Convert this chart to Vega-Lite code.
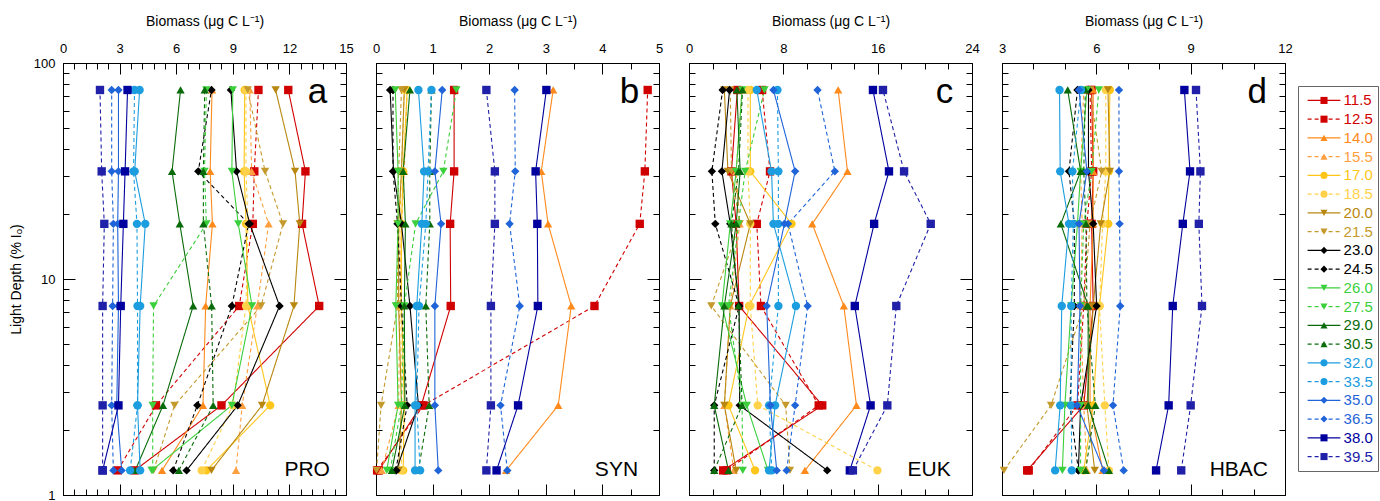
{
"$schema":"https://vega.github.io/schema/vega-lite/v6.json",
"background":"white",
"padding":{"left":8,"top":13,"right":0,"bottom":0},
"spacing":4,
"datasets":{
"pa":[
{"s":"11.5","d":75,"v":11.94},{"s":"11.5","d":31.5,"v":12.85},{"s":"11.5","d":18,"v":12.67},{"s":"11.5","d":7.5,"v":13.58},{"s":"11.5","d":2.6,"v":8.4},{"s":"11.5","d":1.3,"v":3.8},
{"s":"12.5","d":75,"v":10.36},{"s":"12.5","d":31.5,"v":10.14},{"s":"12.5","d":18,"v":10.06},{"s":"12.5","d":7.5,"v":9.34},{"s":"12.5","d":2.6,"v":4.93},{"s":"12.5","d":1.3,"v":2.9},
{"s":"14.0","d":75,"v":7.9},{"s":"14.0","d":31.5,"v":7.8},{"s":"14.0","d":18,"v":7.92},{"s":"14.0","d":7.5,"v":7.56},{"s":"14.0","d":2.6,"v":7.42},{"s":"14.0","d":1.3,"v":5.25},
{"s":"15.5","d":75,"v":9.9},{"s":"15.5","d":31.5,"v":10.0},{"s":"15.5","d":18,"v":10.9},{"s":"15.5","d":7.5,"v":10.3},{"s":"15.5","d":2.6,"v":9.5},{"s":"15.5","d":1.3,"v":9.17},
{"s":"17.0","d":75,"v":9.63},{"s":"17.0","d":31.5,"v":9.6},{"s":"17.0","d":18,"v":9.7},{"s":"17.0","d":7.5,"v":9.8},{"s":"17.0","d":2.6,"v":10.98},{"s":"17.0","d":1.3,"v":7.6},
{"s":"18.5","d":75,"v":9.7},{"s":"18.5","d":31.5,"v":9.7},{"s":"18.5","d":18,"v":9.8},{"s":"18.5","d":7.5,"v":9.7},{"s":"18.5","d":2.6,"v":9.0},{"s":"18.5","d":1.3,"v":7.35},
{"s":"20.0","d":75,"v":11.27},{"s":"20.0","d":31.5,"v":12.3},{"s":"20.0","d":18,"v":12.55},{"s":"20.0","d":7.5,"v":12.24},{"s":"20.0","d":2.6,"v":10.55},{"s":"20.0","d":1.3,"v":7.87},
{"s":"21.5","d":75,"v":9.79},{"s":"21.5","d":31.5,"v":10.71},{"s":"21.5","d":18,"v":11.66},{"s":"21.5","d":7.5,"v":10.5},{"s":"21.5","d":2.6,"v":5.91},{"s":"21.5","d":1.3,"v":4.8},
{"s":"23.0","d":75,"v":8.9},{"s":"23.0","d":31.5,"v":9.2},{"s":"23.0","d":18,"v":9.9},{"s":"23.0","d":7.5,"v":11.48},{"s":"23.0","d":2.6,"v":9.26},{"s":"23.0","d":1.3,"v":6.55},
{"s":"24.5","d":75,"v":7.87},{"s":"24.5","d":31.5,"v":7.17},{"s":"24.5","d":18,"v":9.84},{"s":"24.5","d":7.5,"v":8.95},{"s":"24.5","d":2.6,"v":7.12},{"s":"24.5","d":1.3,"v":5.84},
{"s":"26.0","d":75,"v":9.0},{"s":"26.0","d":31.5,"v":8.95},{"s":"26.0","d":18,"v":9.29},{"s":"26.0","d":7.5,"v":10.02},{"s":"26.0","d":2.6,"v":8.95},{"s":"26.0","d":1.3,"v":4.7},
{"s":"27.5","d":75,"v":7.6},{"s":"27.5","d":31.5,"v":7.5},{"s":"27.5","d":18,"v":7.6},{"s":"27.5","d":7.5,"v":4.8},{"s":"27.5","d":2.6,"v":4.75},{"s":"27.5","d":1.3,"v":4.76},
{"s":"29.0","d":75,"v":6.23},{"s":"29.0","d":31.5,"v":5.78},{"s":"29.0","d":18,"v":6.19},{"s":"29.0","d":7.5,"v":6.9},{"s":"29.0","d":2.6,"v":5.3},{"s":"29.0","d":1.3,"v":3.83},
{"s":"30.5","d":75,"v":7.51},{"s":"30.5","d":31.5,"v":7.44},{"s":"30.5","d":18,"v":7.44},{"s":"30.5","d":7.5,"v":7.88},{"s":"30.5","d":2.6,"v":7.96},{"s":"30.5","d":1.3,"v":6.14},
{"s":"32.0","d":75,"v":4.06},{"s":"32.0","d":31.5,"v":3.8},{"s":"32.0","d":18,"v":4.36},{"s":"32.0","d":7.5,"v":4.09},{"s":"32.0","d":2.6,"v":3.95},{"s":"32.0","d":1.3,"v":4.09},
{"s":"33.5","d":75,"v":3.79},{"s":"33.5","d":31.5,"v":3.74},{"s":"33.5","d":18,"v":3.92},{"s":"33.5","d":7.5,"v":3.95},{"s":"33.5","d":2.6,"v":3.95},{"s":"33.5","d":1.3,"v":3.56},
{"s":"35.0","d":75,"v":2.94},{"s":"35.0","d":31.5,"v":2.94},{"s":"35.0","d":18,"v":2.9},{"s":"35.0","d":7.5,"v":2.94},{"s":"35.0","d":2.6,"v":2.85},{"s":"35.0","d":1.3,"v":3.11},
{"s":"36.5","d":75,"v":2.58},{"s":"36.5","d":31.5,"v":2.58},{"s":"36.5","d":18,"v":2.67},{"s":"36.5","d":7.5,"v":2.63},{"s":"36.5","d":2.6,"v":2.58},{"s":"36.5","d":1.3,"v":2.67},
{"s":"38.0","d":75,"v":3.42},{"s":"38.0","d":31.5,"v":3.29},{"s":"38.0","d":18,"v":3.2},{"s":"38.0","d":7.5,"v":3.06},{"s":"38.0","d":2.6,"v":2.94},{"s":"38.0","d":1.3,"v":2.1},
{"s":"39.5","d":75,"v":1.96},{"s":"39.5","d":31.5,"v":2.05},{"s":"39.5","d":18,"v":2.19},{"s":"39.5","d":7.5,"v":2.1},{"s":"39.5","d":2.6,"v":2.1},{"s":"39.5","d":1.3,"v":2.1}
],
"pb":[
{"s":"11.5","d":75,"v":1.38},{"s":"11.5","d":31.5,"v":1.38},{"s":"11.5","d":18,"v":1.31},{"s":"11.5","d":7.5,"v":1.32},{"s":"11.5","d":2.6,"v":0.8},{"s":"11.5","d":1.3,"v":0.05},
{"s":"12.5","d":75,"v":4.8},{"s":"12.5","d":31.5,"v":4.75},{"s":"12.5","d":18,"v":4.66},{"s":"12.5","d":7.5,"v":3.86},{"s":"12.5","d":2.6,"v":0.84},{"s":"12.5","d":1.3,"v":0.02},
{"s":"14.0","d":75,"v":3.13},{"s":"14.0","d":31.5,"v":2.92},{"s":"14.0","d":18,"v":3.04},{"s":"14.0","d":7.5,"v":3.45},{"s":"14.0","d":2.6,"v":3.22},{"s":"14.0","d":1.3,"v":2.3},
{"s":"15.5","d":75,"v":0.55},{"s":"15.5","d":31.5,"v":0.5},{"s":"15.5","d":18,"v":0.45},{"s":"15.5","d":7.5,"v":0.42},{"s":"15.5","d":2.6,"v":0.4},{"s":"15.5","d":1.3,"v":0.1},
{"s":"17.0","d":75,"v":0.55},{"s":"17.0","d":31.5,"v":0.48},{"s":"17.0","d":18,"v":0.45},{"s":"17.0","d":7.5,"v":0.45},{"s":"17.0","d":2.6,"v":0.5},{"s":"17.0","d":1.3,"v":0.48},
{"s":"18.5","d":75,"v":0.5},{"s":"18.5","d":31.5,"v":0.45},{"s":"18.5","d":18,"v":0.42},{"s":"18.5","d":7.5,"v":0.44},{"s":"18.5","d":2.6,"v":0.45},{"s":"18.5","d":1.3,"v":0.45},
{"s":"20.0","d":75,"v":0.5},{"s":"20.0","d":31.5,"v":0.45},{"s":"20.0","d":18,"v":0.4},{"s":"20.0","d":7.5,"v":0.4},{"s":"20.0","d":2.6,"v":0.45},{"s":"20.0","d":1.3,"v":0.4},
{"s":"21.5","d":75,"v":0.45},{"s":"21.5","d":31.5,"v":0.4},{"s":"21.5","d":18,"v":0.38},{"s":"21.5","d":7.5,"v":0.38},{"s":"21.5","d":2.6,"v":0.09},{"s":"21.5","d":1.3,"v":0.01},
{"s":"23.0","d":75,"v":0.25},{"s":"23.0","d":31.5,"v":0.31},{"s":"23.0","d":18,"v":0.45},{"s":"23.0","d":7.5,"v":0.6},{"s":"23.0","d":2.6,"v":0.75},{"s":"23.0","d":1.3,"v":0.36},
{"s":"24.5","d":75,"v":0.3},{"s":"24.5","d":31.5,"v":0.3},{"s":"24.5","d":18,"v":0.38},{"s":"24.5","d":7.5,"v":0.45},{"s":"24.5","d":2.6,"v":0.55},{"s":"24.5","d":1.3,"v":0.35},
{"s":"26.0","d":75,"v":0.34},{"s":"26.0","d":31.5,"v":0.39},{"s":"26.0","d":18,"v":0.39},{"s":"26.0","d":7.5,"v":0.35},{"s":"26.0","d":2.6,"v":0.39},{"s":"26.0","d":1.3,"v":0.19},
{"s":"27.5","d":75,"v":1.42},{"s":"27.5","d":31.5,"v":1.19},{"s":"27.5","d":18,"v":0.7},{"s":"27.5","d":7.5,"v":0.5},{"s":"27.5","d":2.6,"v":0.45},{"s":"27.5","d":1.3,"v":0.25},
{"s":"29.0","d":75,"v":0.6},{"s":"29.0","d":31.5,"v":0.48},{"s":"29.0","d":18,"v":0.52},{"s":"29.0","d":7.5,"v":0.5},{"s":"29.0","d":2.6,"v":0.51},{"s":"29.0","d":1.3,"v":0.28},
{"s":"30.5","d":75,"v":0.98},{"s":"30.5","d":31.5,"v":0.95},{"s":"30.5","d":18,"v":0.95},{"s":"30.5","d":7.5,"v":0.88},{"s":"30.5","d":2.6,"v":0.94},{"s":"30.5","d":1.3,"v":0.75},
{"s":"32.0","d":75,"v":0.75},{"s":"32.0","d":31.5,"v":0.85},{"s":"32.0","d":18,"v":0.81},{"s":"32.0","d":7.5,"v":0.72},{"s":"32.0","d":2.6,"v":0.69},{"s":"32.0","d":1.3,"v":0.69},
{"s":"33.5","d":75,"v":0.98},{"s":"33.5","d":31.5,"v":0.92},{"s":"33.5","d":18,"v":0.88},{"s":"33.5","d":7.5,"v":0.76},{"s":"33.5","d":2.6,"v":0.72},{"s":"33.5","d":1.3,"v":0.78},
{"s":"35.0","d":75,"v":1.17},{"s":"35.0","d":31.5,"v":1.04},{"s":"35.0","d":18,"v":1.15},{"s":"35.0","d":7.5,"v":1.04},{"s":"35.0","d":2.6,"v":1.04},{"s":"35.0","d":1.3,"v":1.1},
{"s":"36.5","d":75,"v":2.45},{"s":"36.5","d":31.5,"v":2.46},{"s":"36.5","d":18,"v":2.36},{"s":"36.5","d":7.5,"v":2.54},{"s":"36.5","d":2.6,"v":2.2},{"s":"36.5","d":1.3,"v":2.32},
{"s":"38.0","d":75,"v":3.01},{"s":"38.0","d":31.5,"v":2.82},{"s":"38.0","d":18,"v":2.85},{"s":"38.0","d":7.5,"v":2.86},{"s":"38.0","d":2.6,"v":2.51},{"s":"38.0","d":1.3,"v":2.13},
{"s":"39.5","d":75,"v":1.95},{"s":"39.5","d":31.5,"v":2.1},{"s":"39.5","d":18,"v":2.1},{"s":"39.5","d":7.5,"v":2.03},{"s":"39.5","d":2.6,"v":2.03},{"s":"39.5","d":1.3,"v":1.95}
],
"pc":[
{"s":"11.5","d":75,"v":4.1},{"s":"11.5","d":31.5,"v":3.6},{"s":"11.5","d":18,"v":4.0},{"s":"11.5","d":7.5,"v":4.25},{"s":"11.5","d":2.6,"v":11.3},{"s":"11.5","d":1.3,"v":2.9},
{"s":"12.5","d":75,"v":6.2},{"s":"12.5","d":31.5,"v":6.87},{"s":"12.5","d":18,"v":5.75},{"s":"12.5","d":7.5,"v":6.1},{"s":"12.5","d":2.6,"v":11.0},{"s":"12.5","d":1.3,"v":3.2},
{"s":"14.0","d":75,"v":12.65},{"s":"14.0","d":31.5,"v":13.44},{"s":"14.0","d":18,"v":10.45},{"s":"14.0","d":7.5,"v":13.13},{"s":"14.0","d":2.6,"v":14.2},{"s":"14.0","d":1.3,"v":9.83},
{"s":"15.5","d":75,"v":4.5},{"s":"15.5","d":31.5,"v":4.0},{"s":"15.5","d":18,"v":4.3},{"s":"15.5","d":7.5,"v":3.5},{"s":"15.5","d":2.6,"v":3.0},{"s":"15.5","d":1.3,"v":3.8},
{"s":"17.0","d":75,"v":5.2},{"s":"17.0","d":31.5,"v":5.2},{"s":"17.0","d":18,"v":8.7},{"s":"17.0","d":7.5,"v":5.1},{"s":"17.0","d":2.6,"v":3.35},{"s":"17.0","d":1.3,"v":5.6},
{"s":"18.5","d":75,"v":5.0},{"s":"18.5","d":31.5,"v":5.0},{"s":"18.5","d":18,"v":5.2},{"s":"18.5","d":7.5,"v":5.2},{"s":"18.5","d":2.6,"v":5.83},{"s":"18.5","d":1.3,"v":15.98},
{"s":"20.0","d":75,"v":3.0},{"s":"20.0","d":31.5,"v":3.3},{"s":"20.0","d":18,"v":5.2},{"s":"20.0","d":7.5,"v":3.5},{"s":"20.0","d":2.6,"v":3.0},{"s":"20.0","d":1.3,"v":4.0},
{"s":"21.5","d":75,"v":3.5},{"s":"21.5","d":31.5,"v":3.6},{"s":"21.5","d":18,"v":4.3},{"s":"21.5","d":7.5,"v":1.89},{"s":"21.5","d":2.6,"v":8.2},{"s":"21.5","d":1.3,"v":8.56},
{"s":"23.0","d":75,"v":3.44},{"s":"23.0","d":31.5,"v":2.79},{"s":"23.0","d":18,"v":3.5},{"s":"23.0","d":7.5,"v":4.25},{"s":"23.0","d":2.6,"v":4.3},{"s":"23.0","d":1.3,"v":11.72},
{"s":"24.5","d":75,"v":2.85},{"s":"24.5","d":31.5,"v":1.94},{"s":"24.5","d":18,"v":2.23},{"s":"24.5","d":7.5,"v":4.25},{"s":"24.5","d":2.6,"v":2.14},{"s":"24.5","d":1.3,"v":2.14},
{"s":"26.0","d":75,"v":4.5},{"s":"26.0","d":31.5,"v":4.0},{"s":"26.0","d":18,"v":3.5},{"s":"26.0","d":7.5,"v":2.8},{"s":"26.0","d":2.6,"v":4.9},{"s":"26.0","d":1.3,"v":6.7},
{"s":"27.5","d":75,"v":6.4},{"s":"27.5","d":31.5,"v":4.76},{"s":"27.5","d":18,"v":4.2},{"s":"27.5","d":7.5,"v":3.35},{"s":"27.5","d":2.6,"v":4.5},{"s":"27.5","d":1.3,"v":4.56},
{"s":"29.0","d":75,"v":4.06},{"s":"29.0","d":31.5,"v":4.34},{"s":"29.0","d":18,"v":4.0},{"s":"29.0","d":7.5,"v":3.0},{"s":"29.0","d":2.6,"v":2.14},{"s":"29.0","d":1.3,"v":3.35},
{"s":"30.5","d":75,"v":4.54},{"s":"30.5","d":31.5,"v":4.2},{"s":"30.5","d":18,"v":3.6},{"s":"30.5","d":7.5,"v":4.2},{"s":"30.5","d":2.6,"v":4.5},{"s":"30.5","d":1.3,"v":2.14},
{"s":"32.0","d":75,"v":5.75},{"s":"32.0","d":31.5,"v":7.0},{"s":"32.0","d":18,"v":7.16},{"s":"32.0","d":7.5,"v":9.07},{"s":"32.0","d":2.6,"v":7.3},{"s":"32.0","d":1.3,"v":6.79},
{"s":"33.5","d":75,"v":7.5},{"s":"33.5","d":31.5,"v":7.58},{"s":"33.5","d":18,"v":7.58},{"s":"33.5","d":7.5,"v":7.58},{"s":"33.5","d":2.6,"v":6.79},{"s":"33.5","d":1.3,"v":7.02},
{"s":"35.0","d":75,"v":7.16},{"s":"35.0","d":31.5,"v":9.0},{"s":"35.0","d":18,"v":8.09},{"s":"35.0","d":7.5,"v":6.59},{"s":"35.0","d":2.6,"v":6.9},{"s":"35.0","d":1.3,"v":7.44},
{"s":"36.5","d":75,"v":10.9},{"s":"36.5","d":31.5,"v":12.37},{"s":"36.5","d":18,"v":8.4},{"s":"36.5","d":7.5,"v":10.06},{"s":"36.5","d":2.6,"v":9.0},{"s":"36.5","d":1.3,"v":8.28},
{"s":"38.0","d":75,"v":15.6},{"s":"38.0","d":31.5,"v":16.96},{"s":"38.0","d":18,"v":15.7},{"s":"38.0","d":7.5,"v":14.06},{"s":"38.0","d":2.6,"v":15.4},{"s":"38.0","d":1.3,"v":13.64},
{"s":"39.5","d":75,"v":16.45},{"s":"39.5","d":31.5,"v":18.24},{"s":"39.5","d":18,"v":20.5},{"s":"39.5","d":7.5,"v":17.58},{"s":"39.5","d":2.6,"v":16.82},{"s":"39.5","d":1.3,"v":13.9}
],
"pd":[
{"s":"11.5","d":75,"v":5.85},{"s":"11.5","d":31.5,"v":5.9},{"s":"11.5","d":18,"v":5.85},{"s":"11.5","d":7.5,"v":5.9},{"s":"11.5","d":2.6,"v":5.6},{"s":"11.5","d":1.3,"v":3.8},
{"s":"12.5","d":75,"v":5.8},{"s":"12.5","d":31.5,"v":5.85},{"s":"12.5","d":18,"v":5.7},{"s":"12.5","d":7.5,"v":5.6},{"s":"12.5","d":2.6,"v":5.4},{"s":"12.5","d":1.3,"v":3.85},
{"s":"14.0","d":75,"v":5.9},{"s":"14.0","d":31.5,"v":5.9},{"s":"14.0","d":18,"v":5.9},{"s":"14.0","d":7.5,"v":5.8},{"s":"14.0","d":2.6,"v":5.8},{"s":"14.0","d":1.3,"v":6.2},
{"s":"15.5","d":75,"v":5.6},{"s":"15.5","d":31.5,"v":5.5},{"s":"15.5","d":18,"v":5.55},{"s":"15.5","d":7.5,"v":5.5},{"s":"15.5","d":2.6,"v":5.6},{"s":"15.5","d":1.3,"v":5.7},
{"s":"17.0","d":75,"v":6.43},{"s":"17.0","d":31.5,"v":6.4},{"s":"17.0","d":18,"v":6.38},{"s":"17.0","d":7.5,"v":6.1},{"s":"17.0","d":2.6,"v":5.9},{"s":"17.0","d":1.3,"v":5.6},
{"s":"18.5","d":75,"v":6.3},{"s":"18.5","d":31.5,"v":6.3},{"s":"18.5","d":18,"v":6.2},{"s":"18.5","d":7.5,"v":6.1},{"s":"18.5","d":2.6,"v":6.27},{"s":"18.5","d":1.3,"v":6.4},
{"s":"20.0","d":75,"v":6.37},{"s":"20.0","d":31.5,"v":6.43},{"s":"20.0","d":18,"v":6.14},{"s":"20.0","d":7.5,"v":5.9},{"s":"20.0","d":2.6,"v":5.7},{"s":"20.0","d":1.3,"v":5.95},
{"s":"21.5","d":75,"v":5.8},{"s":"21.5","d":31.5,"v":6.17},{"s":"21.5","d":18,"v":5.8},{"s":"21.5","d":7.5,"v":5.6},{"s":"21.5","d":2.6,"v":4.56},{"s":"21.5","d":1.3,"v":3.06},
{"s":"23.0","d":75,"v":5.75},{"s":"23.0","d":31.5,"v":5.75},{"s":"23.0","d":18,"v":5.9},{"s":"23.0","d":7.5,"v":6.01},{"s":"23.0","d":2.6,"v":5.5},{"s":"23.0","d":1.3,"v":5.43},
{"s":"24.5","d":75,"v":5.4},{"s":"24.5","d":31.5,"v":5.13},{"s":"24.5","d":18,"v":5.3},{"s":"24.5","d":7.5,"v":5.3},{"s":"24.5","d":2.6,"v":5.16},{"s":"24.5","d":1.3,"v":5.43},
{"s":"26.0","d":75,"v":5.7},{"s":"26.0","d":31.5,"v":5.5},{"s":"26.0","d":18,"v":5.4},{"s":"26.0","d":7.5,"v":5.2},{"s":"26.0","d":2.6,"v":5.0},{"s":"26.0","d":1.3,"v":4.92},
{"s":"27.5","d":75,"v":6.08},{"s":"27.5","d":31.5,"v":5.85},{"s":"27.5","d":18,"v":5.6},{"s":"27.5","d":7.5,"v":5.5},{"s":"27.5","d":2.6,"v":5.5},{"s":"27.5","d":1.3,"v":5.5},
{"s":"29.0","d":75,"v":5.09},{"s":"29.0","d":31.5,"v":5.5},{"s":"29.0","d":18,"v":4.87},{"s":"29.0","d":7.5,"v":5.74},{"s":"29.0","d":2.6,"v":5.74},{"s":"29.0","d":1.3,"v":6.4},
{"s":"30.5","d":75,"v":5.65},{"s":"30.5","d":31.5,"v":5.6},{"s":"30.5","d":18,"v":5.67},{"s":"30.5","d":7.5,"v":5.7},{"s":"30.5","d":2.6,"v":5.97},{"s":"30.5","d":1.3,"v":5.66},
{"s":"32.0","d":75,"v":4.83},{"s":"32.0","d":31.5,"v":4.85},{"s":"32.0","d":18,"v":5.13},{"s":"32.0","d":7.5,"v":4.9},{"s":"32.0","d":2.6,"v":4.85},{"s":"32.0","d":1.3,"v":4.69},
{"s":"33.5","d":75,"v":5.51},{"s":"33.5","d":31.5,"v":5.24},{"s":"33.5","d":18,"v":5.27},{"s":"33.5","d":7.5,"v":5.2},{"s":"33.5","d":2.6,"v":5.2},{"s":"33.5","d":1.3,"v":5.22},
{"s":"35.0","d":75,"v":5.45},{"s":"35.0","d":31.5,"v":5.7},{"s":"35.0","d":18,"v":5.45},{"s":"35.0","d":7.5,"v":5.48},{"s":"35.0","d":2.6,"v":5.39},{"s":"35.0","d":1.3,"v":6.24},
{"s":"36.5","d":75,"v":6.72},{"s":"36.5","d":31.5,"v":6.72},{"s":"36.5","d":18,"v":6.74},{"s":"36.5","d":7.5,"v":6.76},{"s":"36.5","d":2.6,"v":6.53},{"s":"36.5","d":1.3,"v":6.87},
{"s":"38.0","d":75,"v":8.8},{"s":"38.0","d":31.5,"v":8.98},{"s":"38.0","d":18,"v":8.75},{"s":"38.0","d":7.5,"v":8.43},{"s":"38.0","d":2.6,"v":8.3},{"s":"38.0","d":1.3,"v":7.9},
{"s":"39.5","d":75,"v":9.17},{"s":"39.5","d":31.5,"v":9.31},{"s":"39.5","d":18,"v":9.26},{"s":"39.5","d":7.5,"v":9.36},{"s":"39.5","d":2.6,"v":9.0},{"s":"39.5","d":1.3,"v":8.7}
],
"leg":[{"s":"11.5"},{"s":"12.5"},{"s":"14.0"},{"s":"15.5"},{"s":"17.0"},{"s":"18.5"},{"s":"20.0"},{"s":"21.5"},{"s":"23.0"},{"s":"24.5"},{"s":"26.0"},{"s":"27.5"},{"s":"29.0"},{"s":"30.5"},{"s":"32.0"},{"s":"33.5"},{"s":"35.0"},{"s":"36.5"},{"s":"38.0"},{"s":"39.5"}]
},
"hconcat":[
 {"bounds":"flush","spacing":30,"hconcat":[
  {"data":{"name":"pa"},"width":283,"height":432,
   "layer":[
    {"mark":{"type":"line","strokeWidth":1.1},
     "encoding":{
      "x":{"field":"v","type":"quantitative","scale":{"domain":[0,15],"nice":false,"zero":false},"axis":{"orient":"top","title":"Biomass (μg C L⁻¹)","values":[0,3,6,9,12,15],"format":"d","tickSize":11,"offset":-11,"labelPadding":8,"titlePadding":14}},
      "y":{"field":"d","type":"quantitative","scale":{"type":"log","domain":[1,100],"nice":false},"axis":{"orient":"left","title":"Light Depth (% Iₒ)","values":[1,10,100],"format":"d","tickSize":12,"offset":-12,"labelPadding":8,"titlePadding":10}},
      "color":{"field":"s","type":"nominal","scale":{"domain":["11.5","12.5","14.0","15.5","17.0","18.5","20.0","21.5","23.0","24.5","26.0","27.5","29.0","30.5","32.0","33.5","35.0","36.5","38.0","39.5"],"range":["#d10000","#d10000","#ff8a1c","#ffa040","#ffc61a","#ffd24a","#b8870f","#c59a2c","#000000","#000000","#3ccf3c","#3ccf3c","#0a6b0a","#0a6b0a","#1c9ddf","#1c9ddf","#1f64d8","#1f64d8","#00009e","#2020a8"]},"legend":null},
      "strokeDash":{"field":"s","type":"nominal","scale":{"domain":["11.5","12.5","14.0","15.5","17.0","18.5","20.0","21.5","23.0","24.5","26.0","27.5","29.0","30.5","32.0","33.5","35.0","36.5","38.0","39.5"],"range":[[1,0],[4,3],[1,0],[4,3],[1,0],[4,3],[1,0],[4,3],[1,0],[4,3],[1,0],[4,3],[1,0],[4,3],[1,0],[4,3],[1,0],[4,3],[1,0],[4,3]]},"legend":null},
      "order":{"field":"d","type":"quantitative"}}},
    {"mark":{"type":"point","filled":true,"size":70,"opacity":1,"strokeWidth":0},
     "encoding":{
      "x":{"field":"v","type":"quantitative","axis":{"orient":"bottom","title":null,"values":[0,3,6,9,12,15],"labels":false,"tickSize":11,"offset":-11}},
      "y":{"field":"d","type":"quantitative","axis":{"orient":"right","title":null,"values":[1,10,100],"labels":false,"tickSize":12,"offset":-12}},
      "color":{"field":"s","type":"nominal","legend":null},
      "shape":{"field":"s","type":"nominal","scale":{"domain":["11.5","12.5","14.0","15.5","17.0","18.5","20.0","21.5","23.0","24.5","26.0","27.5","29.0","30.5","32.0","33.5","35.0","36.5","38.0","39.5"],"range":["square","square","triangle-up","triangle-up","circle","circle","triangle-down","triangle-down","diamond","diamond","triangle-down","triangle-down","triangle-up","triangle-up","circle","circle","diamond","diamond","square","square"]},"legend":null}}},
    {"data":{"values":[{}]},
     "mark":{"type":"text","text":"a","fontSize":35,"align":"right","baseline":"alphabetic"},
     "encoding":{
      "x":{"datum":14,"type":"quantitative","axis":{"orient":"top","title":null,"values":[0,0.6,1.2,1.8,2.4,3,3.6,4.2,4.8,5.4,6,6.6,7.2,7.8,8.4,9,9.6,10.2,10.8,11.4,12,12.6,13.2,13.8,14.4,15],"labels":false,"tickSize":6,"offset":-6}},
      "y":{"datum":65.5,"type":"quantitative","axis":{"orient":"left","title":null,"values":[2,3,4,5,6,7,8,9,20,30,40,50,60,70,80,90],"labels":false,"tickSize":6,"offset":-6}}}},
    {"data":{"values":[{}]},
     "mark":{"type":"text","text":"PRO","fontSize":21,"align":"right","baseline":"alphabetic"},
     "encoding":{
      "x":{"datum":14.15,"type":"quantitative","axis":{"orient":"bottom","title":null,"values":[0,0.6,1.2,1.8,2.4,3,3.6,4.2,4.8,5.4,6,6.6,7.2,7.8,8.4,9,9.6,10.2,10.8,11.4,12,12.6,13.2,13.8,14.4,15],"labels":false,"tickSize":6,"offset":-6}},
      "y":{"datum":1.22,"type":"quantitative","axis":{"orient":"right","title":null,"values":[2,3,4,5,6,7,8,9,20,30,40,50,60,70,80,90],"labels":false,"tickSize":6,"offset":-6}}}}
   ],
   "resolve":{"axis":{"x":"independent","y":"independent"}}},
  {"data":{"name":"pb"},"width":283,"height":432,
   "layer":[
    {"mark":{"type":"line","strokeWidth":1.1},
     "encoding":{
      "x":{"field":"v","type":"quantitative","scale":{"domain":[0,5],"nice":false,"zero":false},"axis":{"orient":"top","title":"Biomass (μg C L⁻¹)","values":[0,1,2,3,4,5],"format":"d","tickSize":11,"offset":-11,"labelPadding":8,"titlePadding":14}},
      "y":{"field":"d","type":"quantitative","scale":{"type":"log","domain":[1,100],"nice":false},"axis":{"orient":"left","title":null,"values":[1,10,100],"labels":false,"tickSize":12,"offset":-12}},
      "color":{"field":"s","type":"nominal","legend":null},
      "strokeDash":{"field":"s","type":"nominal","legend":null},
      "order":{"field":"d","type":"quantitative"}}},
    {"mark":{"type":"point","filled":true,"size":70,"opacity":1,"strokeWidth":0},
     "encoding":{
      "x":{"field":"v","type":"quantitative","axis":{"orient":"bottom","title":null,"values":[0,1,2,3,4,5],"labels":false,"tickSize":11,"offset":-11}},
      "y":{"field":"d","type":"quantitative","axis":{"orient":"right","title":null,"values":[1,10,100],"labels":false,"tickSize":12,"offset":-12}},
      "color":{"field":"s","type":"nominal","legend":null},
      "shape":{"field":"s","type":"nominal","legend":null}}},
    {"data":{"values":[{}]},
     "mark":{"type":"text","text":"b","fontSize":35,"align":"right","baseline":"alphabetic"},
     "encoding":{
      "x":{"datum":4.65,"type":"quantitative","axis":{"orient":"top","title":null,"values":[0,0.5,1,1.5,2,2.5,3,3.5,4,4.5,5],"labels":false,"tickSize":6,"offset":-6}},
      "y":{"datum":65.5,"type":"quantitative","axis":{"orient":"left","title":null,"values":[2,3,4,5,6,7,8,9,20,30,40,50,60,70,80,90],"labels":false,"tickSize":6,"offset":-6}}}},
    {"data":{"values":[{}]},
     "mark":{"type":"text","text":"SYN","fontSize":21,"align":"right","baseline":"alphabetic"},
     "encoding":{
      "x":{"datum":4.63,"type":"quantitative","axis":{"orient":"bottom","title":null,"values":[0,0.5,1,1.5,2,2.5,3,3.5,4,4.5,5],"labels":false,"tickSize":6,"offset":-6}},
      "y":{"datum":1.22,"type":"quantitative","axis":{"orient":"right","title":null,"values":[2,3,4,5,6,7,8,9,20,30,40,50,60,70,80,90],"labels":false,"tickSize":6,"offset":-6}}}}
   ],
   "resolve":{"axis":{"x":"independent","y":"independent"}}},
  {"data":{"name":"pc"},"width":283,"height":432,
   "layer":[
    {"mark":{"type":"line","strokeWidth":1.1},
     "encoding":{
      "x":{"field":"v","type":"quantitative","scale":{"domain":[0,24],"nice":false,"zero":false},"axis":{"orient":"top","title":"Biomass (μg C L⁻¹)","values":[0,8,16,24],"format":"d","tickSize":11,"offset":-11,"labelPadding":8,"titlePadding":14}},
      "y":{"field":"d","type":"quantitative","scale":{"type":"log","domain":[1,100],"nice":false},"axis":{"orient":"left","title":null,"values":[1,10,100],"labels":false,"tickSize":12,"offset":-12}},
      "color":{"field":"s","type":"nominal","legend":null},
      "strokeDash":{"field":"s","type":"nominal","legend":null},
      "order":{"field":"d","type":"quantitative"}}},
    {"mark":{"type":"point","filled":true,"size":70,"opacity":1,"strokeWidth":0},
     "encoding":{
      "x":{"field":"v","type":"quantitative","axis":{"orient":"bottom","title":null,"values":[0,8,16,24],"labels":false,"tickSize":11,"offset":-11}},
      "y":{"field":"d","type":"quantitative","axis":{"orient":"right","title":null,"values":[1,10,100],"labels":false,"tickSize":12,"offset":-12}},
      "color":{"field":"s","type":"nominal","legend":null},
      "shape":{"field":"s","type":"nominal","legend":null}}},
    {"data":{"values":[{}]},
     "mark":{"type":"text","text":"c","fontSize":35,"align":"right","baseline":"alphabetic"},
     "encoding":{
      "x":{"datum":22.4,"type":"quantitative","axis":{"orient":"top","title":null,"values":[0,2,4,6,8,10,12,14,16,18,20,22,24],"labels":false,"tickSize":6,"offset":-6}},
      "y":{"datum":65.5,"type":"quantitative","axis":{"orient":"left","title":null,"values":[2,3,4,5,6,7,8,9,20,30,40,50,60,70,80,90],"labels":false,"tickSize":6,"offset":-6}}}},
    {"data":{"values":[{}]},
     "mark":{"type":"text","text":"EUK","fontSize":21,"align":"right","baseline":"alphabetic"},
     "encoding":{
      "x":{"datum":22.2,"type":"quantitative","axis":{"orient":"bottom","title":null,"values":[0,2,4,6,8,10,12,14,16,18,20,22,24],"labels":false,"tickSize":6,"offset":-6}},
      "y":{"datum":1.22,"type":"quantitative","axis":{"orient":"right","title":null,"values":[2,3,4,5,6,7,8,9,20,30,40,50,60,70,80,90],"labels":false,"tickSize":6,"offset":-6}}}}
   ],
   "resolve":{"axis":{"x":"independent","y":"independent"}}},
  {"data":{"name":"pd"},"width":283,"height":432,
   "layer":[
    {"mark":{"type":"line","strokeWidth":1.1},
     "encoding":{
      "x":{"field":"v","type":"quantitative","scale":{"domain":[3,12],"nice":false,"zero":false},"axis":{"orient":"top","title":"Biomass (μg C L⁻¹)","values":[3,6,9,12],"format":"d","tickSize":11,"offset":-11,"labelPadding":8,"titlePadding":14}},
      "y":{"field":"d","type":"quantitative","scale":{"type":"log","domain":[1,100],"nice":false},"axis":{"orient":"left","title":null,"values":[1,10,100],"labels":false,"tickSize":12,"offset":-12}},
      "color":{"field":"s","type":"nominal","legend":null},
      "strokeDash":{"field":"s","type":"nominal","legend":null},
      "order":{"field":"d","type":"quantitative"}}},
    {"mark":{"type":"point","filled":true,"size":70,"opacity":1,"strokeWidth":0},
     "encoding":{
      "x":{"field":"v","type":"quantitative","axis":{"orient":"bottom","title":null,"values":[3,6,9,12],"labels":false,"tickSize":11,"offset":-11}},
      "y":{"field":"d","type":"quantitative","axis":{"orient":"right","title":null,"values":[1,10,100],"labels":false,"tickSize":12,"offset":-12}},
      "color":{"field":"s","type":"nominal","legend":null},
      "shape":{"field":"s","type":"nominal","legend":null}}},
    {"data":{"values":[{}]},
     "mark":{"type":"text","text":"d","fontSize":35,"align":"right","baseline":"alphabetic"},
     "encoding":{
      "x":{"datum":11.43,"type":"quantitative","axis":{"orient":"top","title":null,"values":[3,4,5,6,7,8,9,10,11,12],"labels":false,"tickSize":6,"offset":-6}},
      "y":{"datum":65.5,"type":"quantitative","axis":{"orient":"left","title":null,"values":[2,3,4,5,6,7,8,9,20,30,40,50,60,70,80,90],"labels":false,"tickSize":6,"offset":-6}}}},
    {"data":{"values":[{}]},
     "mark":{"type":"text","text":"HBAC","fontSize":21,"align":"right","baseline":"alphabetic"},
     "encoding":{
      "x":{"datum":11.46,"type":"quantitative","axis":{"orient":"bottom","title":null,"values":[3,4,5,6,7,8,9,10,11,12],"labels":false,"tickSize":6,"offset":-6}},
      "y":{"datum":1.22,"type":"quantitative","axis":{"orient":"right","title":null,"values":[2,3,4,5,6,7,8,9,20,30,40,50,60,70,80,90],"labels":false,"tickSize":6,"offset":-6}}}}
   ],
   "resolve":{"axis":{"x":"independent","y":"independent"}}}
 ]},
 {"bounds":"flush","spacing":0,"vconcat":[
  {"width":80,"height":23,"data":{"values":[{}]},"mark":{"type":"point","opacity":0},"encoding":{},"view":{"stroke":null}},
  {"data":{"name":"leg"},"width":80,"height":385,"view":{"stroke":"#666666"},
   "layer":[
    {"mark":{"type":"rule","strokeWidth":1.2},
     "encoding":{
      "x":{"datum":0.12,"type":"quantitative","scale":{"domain":[0,1],"nice":false,"zero":false},"axis":null},
      "x2":{"datum":0.53},
      "y":{"field":"s","type":"nominal","scale":{"type":"point","padding":0.77},"axis":null},
      "color":{"field":"s","type":"nominal","legend":null},
      "strokeDash":{"field":"s","type":"nominal","legend":null}}},
    {"mark":{"type":"point","filled":true,"size":50,"opacity":1,"strokeWidth":0},
     "encoding":{
      "x":{"datum":0.325,"type":"quantitative","axis":null},
      "y":{"field":"s","type":"nominal","axis":null},
      "color":{"field":"s","type":"nominal","legend":null},
      "shape":{"field":"s","type":"nominal","legend":null}}},
    {"mark":{"type":"text","align":"left","baseline":"middle","fontSize":15},
     "encoding":{
      "x":{"datum":0.57,"type":"quantitative","axis":null},
      "y":{"field":"s","type":"nominal","axis":null},
      "text":{"field":"s"},
      "color":{"field":"s","type":"nominal","legend":null}}}
   ]}
 ]}
],
"config":{
 "font":"Liberation Sans",
 "view":{"stroke":"#000000","strokeWidth":1},
 "axis":{"labelFont":"Liberation Sans","titleFont":"Liberation Sans","labelFontSize":13,"titleFontSize":14,"titleFontWeight":"normal","labelColor":"#000000","titleColor":"#000000","tickColor":"#000000","tickWidth":1,"grid":false,"domain":false,"labelFlush":false,"labelOverlap":false}
}
}
